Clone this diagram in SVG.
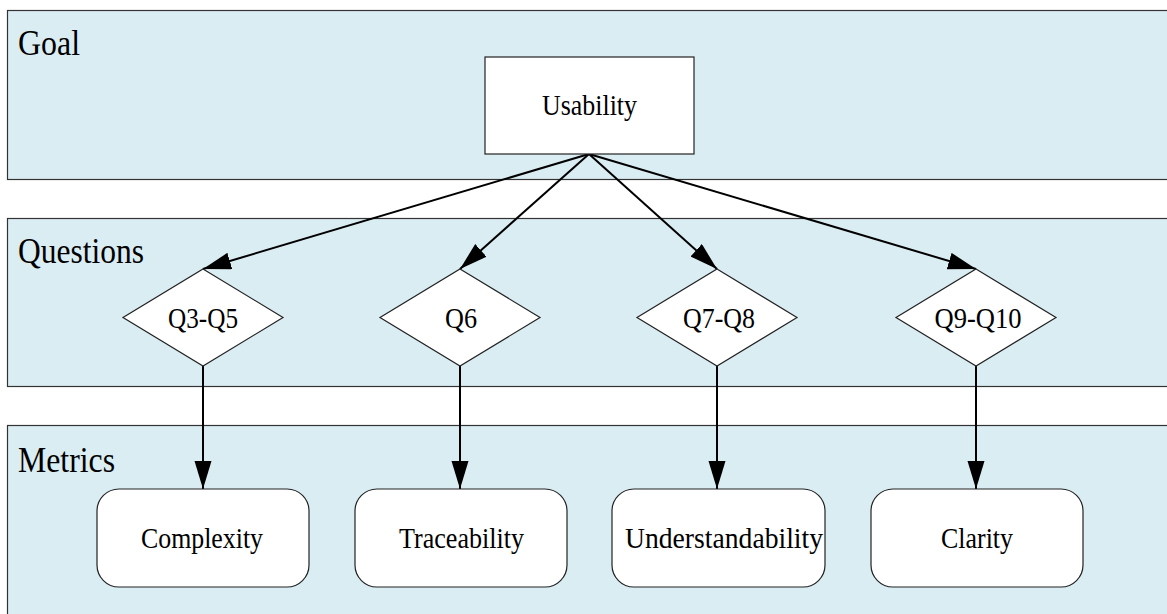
<svg xmlns="http://www.w3.org/2000/svg" width="1167" height="614" viewBox="0 0 1167 614">
<style>
.band{fill:#daedf3;stroke:#333;stroke-width:1.2}
.node{fill:#fff;stroke:#222;stroke-width:1.2}
.lbl{font-family:"Liberation Serif","Times New Roman",serif;fill:#000}
.sec{font-size:36px}
.nt{font-size:30px;text-anchor:middle}
.conn{stroke:#000;stroke-width:2;fill:none}
</style>
<defs>
<marker id="ah" markerUnits="userSpaceOnUse" markerWidth="30" markerHeight="18" refX="28" refY="8.5" orient="auto">
<path d="M0,0 L28,8.5 L0,17 Z" fill="#000"/>
</marker>
</defs>
<g id="band-goal">
<rect class="band" x="7.5" y="10.5" width="1170" height="169"/>
<text class="lbl sec" x="18" y="55" textLength="62" lengthAdjust="spacingAndGlyphs">Goal</text>
</g>
<g id="band-questions">
<rect class="band" x="7.5" y="218.5" width="1170" height="168"/>
<text class="lbl sec" x="18" y="263" textLength="126" lengthAdjust="spacingAndGlyphs">Questions</text>
</g>
<g id="band-metrics">
<rect class="band" x="7.5" y="425.5" width="1170" height="200"/>
<text class="lbl sec" x="18" y="472" textLength="97" lengthAdjust="spacingAndGlyphs">Metrics</text>
</g>
<g id="connectors">
<line class="conn" x1="589" y1="154" x2="203" y2="269" marker-end="url(#ah)"/>
<line class="conn" x1="589" y1="154" x2="460" y2="269" marker-end="url(#ah)"/>
<line class="conn" x1="589" y1="154" x2="717" y2="269" marker-end="url(#ah)"/>
<line class="conn" x1="589" y1="154" x2="976" y2="269" marker-end="url(#ah)"/>
<line class="conn" x1="203" y1="366" x2="203" y2="489" marker-end="url(#ah)"/>
<line class="conn" x1="460" y1="366" x2="460" y2="489" marker-end="url(#ah)"/>
<line class="conn" x1="717" y1="366" x2="717" y2="489" marker-end="url(#ah)"/>
<line class="conn" x1="976" y1="366" x2="976" y2="489" marker-end="url(#ah)"/>
</g>
<g id="usability">
<rect class="node" x="485" y="57" width="209" height="97"/>
<text class="lbl nt" x="589.5" y="115" textLength="95" lengthAdjust="spacingAndGlyphs">Usability</text>
</g>
<g id="q3-q5">
<polygon class="node" points="203,269 283,317.5 203,366 123,317.5"/>
<text class="lbl nt" x="203" y="328" textLength="70" lengthAdjust="spacingAndGlyphs">Q3-Q5</text>
</g>
<g id="q6">
<polygon class="node" points="460,269 540,317.5 460,366 380,317.5"/>
<text class="lbl nt" x="461" y="328" textLength="32" lengthAdjust="spacingAndGlyphs">Q6</text>
</g>
<g id="q7-q8">
<polygon class="node" points="717,269 797,317.5 717,366 637,317.5"/>
<text class="lbl nt" x="719" y="328" textLength="72" lengthAdjust="spacingAndGlyphs">Q7-Q8</text>
</g>
<g id="q9-q10">
<polygon class="node" points="976,269 1056,317.5 976,366 896,317.5"/>
<text class="lbl nt" x="978" y="328" textLength="87" lengthAdjust="spacingAndGlyphs">Q9-Q10</text>
</g>
<g id="complexity">
<rect class="node" x="97" y="489" width="212" height="98" rx="22"/>
<text class="lbl nt" x="202" y="548" textLength="122" lengthAdjust="spacingAndGlyphs">Complexity</text>
</g>
<g id="traceability">
<rect class="node" x="355" y="489" width="212" height="98" rx="22"/>
<text class="lbl nt" x="461.5" y="548" textLength="125" lengthAdjust="spacingAndGlyphs">Traceability</text>
</g>
<g id="understandability">
<rect class="node" x="612" y="489" width="213" height="98" rx="22"/>
<text class="lbl nt" x="724" y="548" textLength="198" lengthAdjust="spacingAndGlyphs">Understandability</text>
</g>
<g id="clarity">
<rect class="node" x="871" y="489" width="212" height="98" rx="22"/>
<text class="lbl nt" x="977" y="548" textLength="72" lengthAdjust="spacingAndGlyphs">Clarity</text>
</g>
</svg>
